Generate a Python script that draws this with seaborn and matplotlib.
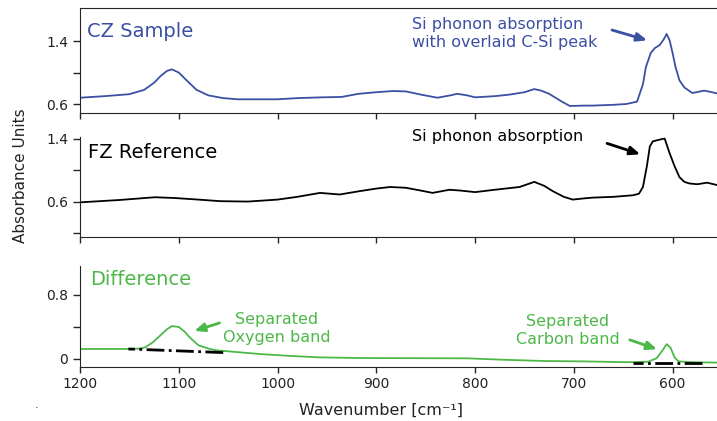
import numpy as np
import pandas as pd
import matplotlib
matplotlib.use("Agg")
import matplotlib.pyplot as plt
import seaborn as sns

# Данные спектров (волновое число, поглощение)
cz_wn = [1200, 1175, 1150, 1135, 1125, 1118, 1112, 1107, 1100, 1092, 1082, 1070, 1055, 1040,
         1000, 980, 955, 935, 918, 900, 883, 870, 855, 838, 825, 818, 808, 800, 780, 765,
         750, 740, 733, 725, 712, 704, 690, 681, 660, 647, 636, 630, 627, 622, 618, 613,
         609, 606, 603, 600, 597, 593, 588, 580, 572, 568, 560, 555]
cz_abs = [0.68, 0.70, 0.725, 0.78, 0.87, 0.96, 1.02, 1.04, 1.00, 0.90, 0.78, 0.71, 0.675, 0.66,
          0.66, 0.675, 0.685, 0.69, 0.73, 0.75, 0.765, 0.76, 0.72, 0.68, 0.71, 0.73, 0.71, 0.685, 0.70, 0.72,
          0.75, 0.79, 0.77, 0.73, 0.63, 0.575, 0.58, 0.58, 0.59, 0.60, 0.63, 0.85, 1.07, 1.25, 1.31, 1.35,
          1.42, 1.49, 1.41, 1.25, 1.07, 0.90, 0.81, 0.74, 0.76, 0.77, 0.75, 0.735]

fz_wn = [1200, 1160, 1124, 1104, 1080, 1058, 1030, 1000, 980, 957, 937, 918, 900, 886, 870,
         855, 843, 826, 815, 800, 780, 755, 740, 730, 721, 710, 701, 690, 681, 660, 640,
         634, 630, 626, 623, 620, 612, 608, 603, 598, 593, 588, 583, 575, 565, 555]
fz_abs = [0.59, 0.62, 0.655, 0.645, 0.625, 0.605, 0.60, 0.625, 0.66, 0.71, 0.69, 0.73, 0.765, 0.785, 0.775,
          0.74, 0.71, 0.75, 0.74, 0.72, 0.75, 0.785, 0.85, 0.80, 0.73, 0.66, 0.625, 0.64, 0.65, 0.66, 0.68,
          0.70, 0.785, 1.05, 1.30, 1.365, 1.39, 1.40, 1.215, 1.05, 0.91, 0.85, 0.83, 0.82, 0.84, 0.81]

diff_wn = [1200, 1149, 1140, 1134, 1126, 1119, 1112, 1107, 1100, 1094, 1089, 1080, 1070, 1063,
           1040, 1018, 990, 957, 917, 860, 808, 770, 731, 690, 647, 625, 616, 610, 606, 602,
           598, 594, 580, 555]
diff_abs = [0.125, 0.125, 0.13, 0.145, 0.21, 0.29, 0.37, 0.41, 0.40, 0.34, 0.27, 0.17, 0.13, 0.11,
            0.085, 0.062, 0.04, 0.02, 0.012, 0.01, 0.008, -0.01, -0.025, -0.03, -0.04, -0.035, 0.01, 0.11, 0.185, 0.14,
            0.02, -0.03, -0.04, -0.045]

# Базовые линии под полосами
oxy_base_wn = [1151, 1055]
oxy_base_abs = [0.125, 0.08]
carb_base_wn = [640, 570]
carb_base_abs = [-0.055, -0.055]

x_ticks = [1200, 1100, 1000, 900, 800, 700, 600]

blue = "#3b4fa3"
green = "#4cb848"

sns.set_style("ticks")
plt.rcParams['font.family'] = ['DejaVu Sans']
plt.rcParams['xtick.major.size'] = 4
plt.rcParams['ytick.major.size'] = 5

fig = plt.figure(figsize=(7.17, 4.21), dpi=100)
W, H = 717, 421

def add_panel(top, bottom):
    return fig.add_axes([80 / W, 1 - bottom / H, 1 - 80 / W, (bottom - top) / H])

ax1 = add_panel(8, 113)
ax2 = add_panel(137, 237)
ax3 = add_panel(266, 367)

sns.lineplot(x=cz_wn, y=cz_abs, ax=ax1, color=blue, lw=1.3)
sns.lineplot(x=fz_wn, y=fz_abs, ax=ax2, color="black", lw=1.3)
sns.lineplot(x=diff_wn, y=diff_abs, ax=ax3, color=green, lw=1.3)
sns.lineplot(x=oxy_base_wn, y=oxy_base_abs, ax=ax3, color="black", lw=2, linestyle="-.")
sns.lineplot(x=carb_base_wn, y=carb_base_abs, ax=ax3, color="black", lw=2, linestyle="-.")

for ax in (ax1, ax2, ax3):
    ax.set_xlim(1200, 555)
    ax.set_xticks(x_ticks)
    ax.spines['right'].set_visible(False)
    ax.tick_params(labelsize=10, width=1, labelcolor="#222222")
    ax.set_xlabel("")
    ax.set_ylabel("")
for ax in (ax1, ax2):
    ax.set_xticklabels([])
ax2.spines['top'].set_visible(False)
ax3.spines['top'].set_visible(False)

ax1.set_ylim(0.486, 1.82)
ax1.set_yticks([0.6, 1.0, 1.4])
ax1.set_yticklabels(["0.6", "", "1.4"])
ax2.set_ylim(0.15, 1.42)
ax2.set_yticks([0.2, 0.6, 1.0, 1.4])
ax2.set_yticklabels(["", "0.6", "", "1.4"])
ax3.set_ylim(-0.1, 1.16)
ax3.set_yticks([0, 0.4, 0.8])
ax3.set_yticklabels(["0", "", "0.8"])
ax3.set_xticklabels([str(t) for t in x_ticks])

arrow = dict(arrowstyle="-|>,head_length=0.6,head_width=0.25", lw=2)

# Панель CZ
ax1.text(1193, 1.527, "CZ Sample", color=blue, fontsize=14, va="center", ha="left")
ax1.annotate("", xy=(623, 1.40), xytext=(664, 1.55), arrowprops=dict(arrow, color=blue))
ax1.text(864, 1.49, "Si phonon absorption\nwith overlaid C-Si peak", color=blue, fontsize=11.5,
         ha="left", va="center", linespacing=1.25)

# Панель FZ
ax2.text(1192, 1.22, "FZ Reference", color="black", fontsize=14, va="center", ha="left")
ax2.annotate("", xy=(630, 1.19), xytext=(669, 1.35), arrowprops=dict(arrow, color="black"))
ax2.text(864, 1.426, "Si phonon absorption", color="black", fontsize=11.5, ha="left", va="center")

# Разность
ax3.text(1190, 0.99, "Difference", color=green, fontsize=14, va="center", ha="left")
ax3.annotate("", xy=(1087, 0.34), xytext=(1056, 0.46), arrowprops=dict(arrow, color=green))
ax3.text(1001, 0.38, "Separated\nOxygen band", color=green, fontsize=11.5, ha="center", va="center",
         linespacing=1.2)
ax3.annotate("", xy=(613, 0.11), xytext=(646, 0.25), arrowprops=dict(arrow, color=green))
ax3.text(706, 0.356, "Separated\nCarbon band", color=green, fontsize=11.5, ha="center", va="center",
         linespacing=1.2)

fig.text(381 / W, 1 - 410 / H, "Wavenumber [cm\u207b\u00b9]", fontsize=11.5, ha="center", va="center",
         color="#222222")
fig.text(20.5 / W, 1 - 175.5 / H, "Absorbance Units", fontsize=11, rotation=90, ha="center", va="center",
         color="#222222")
fig.text(37 / W, 1 - 405 / H, ".", fontsize=8, ha="center", va="center")

fig.savefig("out.png", dpi=100)
